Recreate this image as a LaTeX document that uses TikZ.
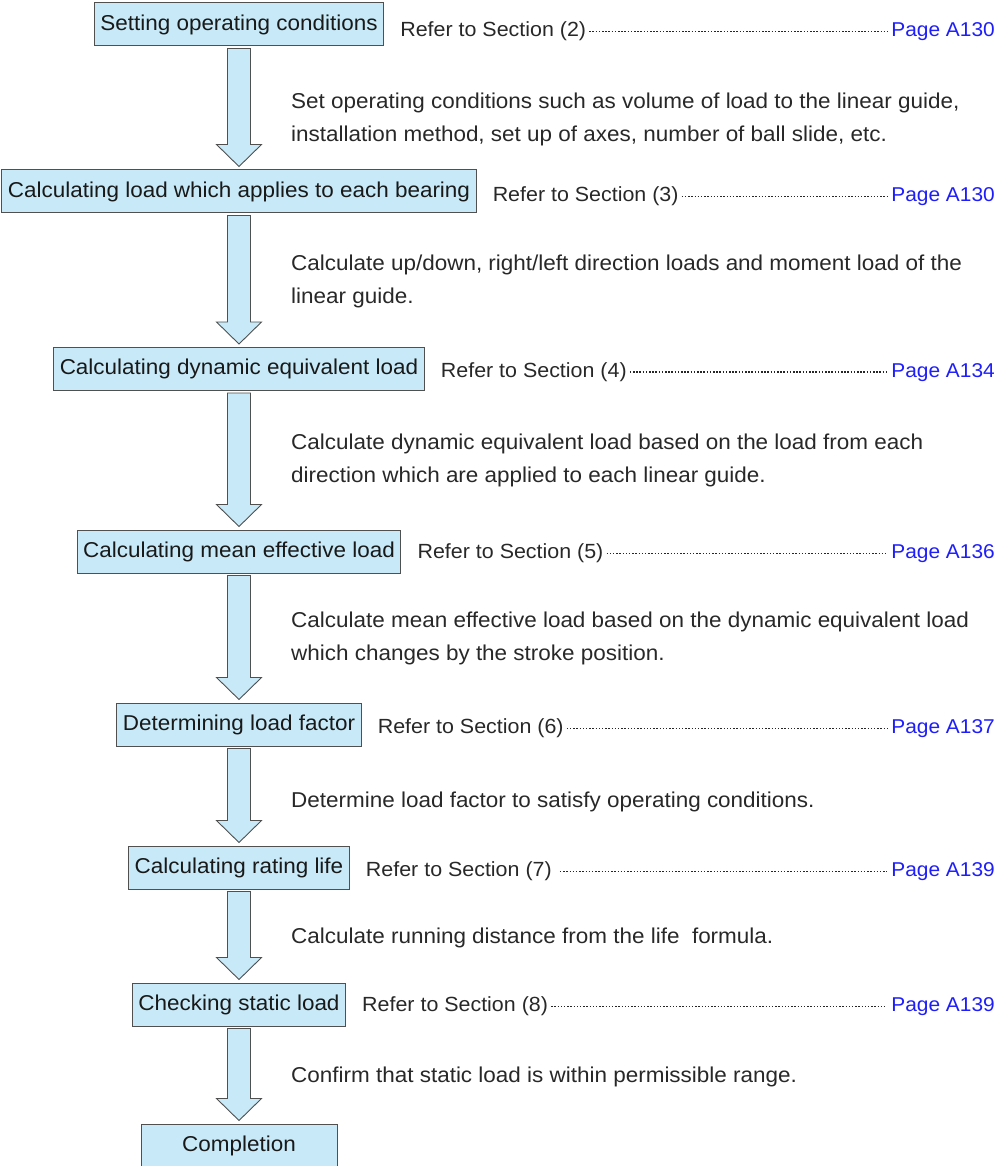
\documentclass[tikz,border=0pt]{standalone}
\usepackage{fontspec}
\setmainfont{Liberation Sans}[FakeStretch=1.045]
\usetikzlibrary{calc,positioning}
\definecolor{boxfill}{RGB}{200,234,248}
\definecolor{boxline}{RGB}{80,80,80}
\definecolor{pageblue}{RGB}{30,30,250}
\definecolor{inkgray}{RGB}{40,40,40}
\tikzset{
  stepbox/.style={draw=boxline,fill=boxfill,line width=1pt,minimum height=43pt,minimum width=196pt,inner xsep=6pt,text=black!90},
  refer/.style={inner sep=0pt,text=inkgray,font=\fontsize{20.5}{24}\selectfont},
  page/.style={inner sep=0pt,text=pageblue,anchor=base east,font=\fontsize{20}{24}\selectfont},
  note/.style={inner sep=0pt,text=inkgray,anchor=north west,align=left},
  leader/.style={draw=black!85,line width=1.8pt,dash pattern=on 1.5pt off 1.7pt,shorten <=3pt,shorten >=4pt},
  bigarrow/.style={draw=boxline,fill=boxfill,line width=0.9pt,line join=miter}
}
\newcommand{\flowarrow}[2]{%
  \draw[bigarrow] ($(#1.south)+(-11.5,2)$) -- ($(#2.north)+(-11.5,-25)$) -- ++(-11,0)
    -- ($(#2.north)+(0,-3)$) -- ($(#2.north)+(22.5,-25)$) -- ++(-11,0)
    -- ($(#1.south)+(11.5,2)$) -- cycle;}
\begin{document}
\begin{tikzpicture}[x=1pt,y=-1pt,font=\fontsize{21.5}{33}\selectfont]
\useasboundingbox (0,0) rectangle (1007,1166);
\coordinate (R) at (995,0);
% steps
\node[stepbox] (A) at (239,24.5) {Setting operating conditions};
\node[stepbox] (B) at (239,191.5) {Calculating load which applies to each bearing};
\node[stepbox] (C) at (239,369) {Calculating dynamic equivalent load};
\node[stepbox] (D) at (239,551.5) {Calculating mean effective load};
\node[stepbox] (E) at (239,724.5) {Determining load factor};
\node[stepbox] (F) at (239,867.5) {Calculating rating life};
\node[stepbox] (G) at (239,1004.5) {Checking static load};
\node[stepbox] (H) at (239,1145.5) {Completion};
% arrows
\flowarrow{A}{B}
\flowarrow{B}{C}
\flowarrow{C}{D}
\flowarrow{D}{E}
\flowarrow{E}{F}
\flowarrow{F}{G}
\flowarrow{G}{H}
% references
\node[refer,right=16pt of A,yshift=-7pt] (RA) {Refer to Section (2)};
\node[refer,right=16pt of B,yshift=-5pt] (RB) {Refer to Section (3)};
\node[refer,right=16pt of C,yshift=-3pt] (RC) {Refer to Section (4)};
\node[refer,right=16pt of D,yshift=-2pt] (RD) {Refer to Section (5)};
\node[refer,right=16pt of E,yshift=-4pt] (RE) {Refer to Section (6)};
\node[refer,right=16pt of F,yshift=-4pt] (RF) {Refer to Section (7)};
\node[refer,right=16pt of G,yshift=-2pt] (RG) {Refer to Section (8)};
\node[page] (PA) at (RA.base -| R) {Page A130};
\node[page] (PB) at (RB.base -| R) {Page A130};
\node[page] (PC) at (RC.base -| R) {Page A134};
\node[page] (PD) at (RD.base -| R) {Page A136};
\node[page] (PE) at (RE.base -| R) {Page A137};
\node[page] (PF) at (RF.base -| R) {Page A139};
\node[page] (PG) at (RG.base -| R) {Page A139};
\draw[leader] (RA.east) -- (RA.east -| PA.west);
\draw[leader] (RB.east) -- (RB.east -| PB.west);
\draw[leader] (RC.east) -- (RC.east -| PC.west);
\draw[leader] (RD.east) -- (RD.east -| PD.west);
\draw[leader] (RE.east) -- (RE.east -| PE.west);
\draw[leader,shorten <=8pt] (RF.east) -- (RF.east -| PF.west);
\draw[leader] (RG.east) -- (RG.east -| PG.west);
% notes
\node[note] (TA) at (291,93) {Set operating conditions such as volume of load to the linear guide,\\installation method, set up of axes, number of ball slide, etc.};
\node[note] (TB) at (291,255) {Calculate up/down, right/left direction loads and moment load of the\\linear guide.};
\node[note] (TC) at (291,434) {Calculate dynamic equivalent load based on the load from each\\direction which are applied to each linear guide.};
\node[note] (TD) at (291,612) {Calculate mean effective load based on the dynamic equivalent load\\which changes by the stroke position.};
\node[note] (TE) at (291,792) {Determine load factor to satisfy operating conditions.};
\node[note] (TF) at (291,928) {Calculate running distance from the life\ \ formula.};
\node[note] (TG) at (291,1067) {Confirm that static load is within permissible range.};
\end{tikzpicture}
\end{document}
